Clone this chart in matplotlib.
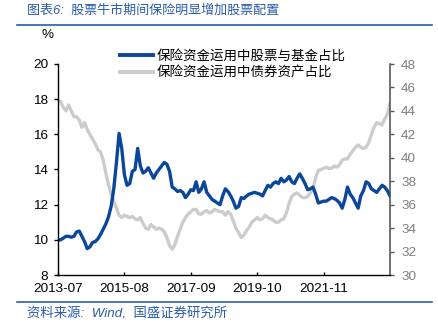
import numpy as np
import matplotlib
matplotlib.use("Agg")
import matplotlib.pyplot as plt
from matplotlib.lines import Line2D

plt.rcParams['font.family'] = ['Liberation Sans', 'Noto Sans CJK SC', 'DejaVu Sans']

# 月度数据 2013-07 起
stock_share = [
    10.0, 10.0, 10.1, 10.2, 10.2, 10.15, 10.2, 10.45, 10.5, 10.2,
    9.9, 9.5, 9.6, 9.85, 9.9, 10.05, 10.3, 10.6, 10.9, 11.3,
    11.9, 12.9, 14.4, 16.05, 15.2, 13.7, 13.1, 13.2, 13.9, 14.0,
    15.2, 14.2, 13.8, 13.9, 14.1, 13.8, 13.5, 13.8, 14.0, 14.2,
    14.4, 14.3, 13.9, 13.0, 12.9, 12.75, 12.8, 12.7, 12.4, 12.6,
    12.85, 12.8, 13.3, 12.7, 12.9, 13.3, 12.7, 12.5, 12.3, 12.2,
    12.1, 12.0, 12.5, 12.9, 12.75, 12.5, 12.2, 11.8, 11.9, 12.4,
    12.35, 12.5, 12.6, 12.65, 12.7, 12.65, 12.6, 12.5, 12.8, 13.1,
    13.0, 13.2, 13.3, 13.2, 13.5, 13.3, 13.4, 13.6, 13.3, 13.2,
    13.5, 13.75, 13.5, 13.2, 12.85, 12.9, 13.0, 12.6, 12.1, 12.15,
    12.2, 12.2, 12.3, 12.4, 12.35, 12.25, 12.1, 11.8, 12.3, 13.0,
    12.6, 12.4, 12.1, 11.8, 12.5, 12.8, 13.3, 13.2, 12.9, 12.8,
    12.7, 12.9, 13.1, 13.0, 12.8, 12.5,
]
bond_share = [
    44.9, 44.8, 44.3, 44.0, 44.5, 44.0, 43.5, 43.5, 43.2, 42.6,
    43.0, 42.4, 42.0, 41.6, 41.2, 40.7, 40.5, 39.8, 38.7, 37.7,
    36.9, 36.3, 35.7, 35.1, 34.9, 35.1, 35.0, 34.9, 35.0, 34.8,
    34.7, 34.9, 34.4, 34.0, 33.9, 34.3, 34.1, 33.9, 34.0, 33.9,
    33.7, 33.2, 32.5, 32.2, 32.6, 33.3, 33.9, 34.5, 34.9, 35.2,
    35.4, 35.6, 35.6, 35.2, 35.2, 35.4, 35.5, 35.3, 35.4, 35.6,
    35.5, 35.4, 35.4, 35.1, 35.4, 35.2, 34.6, 34.0, 33.6, 33.2,
    33.4, 33.8, 34.1, 34.5, 34.7, 34.9, 34.7, 34.8, 35.1, 34.9,
    34.8, 34.7, 34.5, 34.5, 34.7, 34.8, 35.3, 36.1, 36.7, 36.9,
    37.0, 36.8, 36.6, 36.6, 36.7, 37.0, 37.4, 38.3, 38.9, 39.0,
    39.1, 39.2, 39.1, 39.1, 39.3, 39.2, 39.4, 39.8, 39.9, 39.9,
    40.3, 40.6, 40.9, 41.1, 40.9, 40.8, 40.9, 41.3, 42.0, 42.6,
    43.0, 42.9, 42.8, 43.3, 43.7, 44.6,
]
x_labels = ['2013-07', '2015-08', '2017-09', '2019-10', '2021-11']
label_stock = '保险资金运用中股票与基金占比'
label_bond = '保险资金运用中债券资产占比'

blue = '#0a4699'
gray = '#cccccc'
title_blue = '#2a5caa'

months = np.arange(len(stock_share))

fig = plt.figure(figsize=(4.39, 3.28), dpi=100)
ax = fig.add_axes([58 / 439, 1 - 275 / 328, (390 - 58) / 439, (275 - 64) / 328])
ax2 = ax.twinx()

ax2.plot(months, bond_share, color=gray, lw=2.4, solid_joinstyle='round')
ax.plot(months, stock_share, color=blue, lw=2.4, solid_joinstyle='round')
ax.set_zorder(ax2.get_zorder() + 1)
ax.patch.set_visible(False)

ax.set_xlim(0, len(stock_share) - 1)
ax.set_ylim(8, 20)
ax.set_yticks(np.arange(8, 21, 2))
ax2.set_ylim(30, 48)
ax2.set_yticks(np.arange(30, 49, 2))
ax.set_xticks(np.arange(0, 101, 25))
ax.set_xticklabels(x_labels)

for a in (ax, ax2):
    a.spines['top'].set_visible(False)
ax.spines['right'].set_visible(False)
ax2.spines['left'].set_visible(False)
ax2.spines['bottom'].set_visible(False)
ax2.spines['right'].set_color('#595959')
ax2.spines['right'].set_linewidth(1.2)
ax.spines['left'].set_linewidth(1.0)
ax.spines['bottom'].set_linewidth(1.0)

ax.tick_params(axis='y', direction='out', length=3, width=1, pad=4, labelsize=9.7, colors='black')
ax.tick_params(axis='x', direction='in', length=2.5, width=1, pad=6, labelsize=9.7)
ax2.tick_params(axis='y', direction='out', length=3, width=1, pad=5, labelsize=9.7,
                colors='#595959', labelcolor='#7f7f7f')

fig.text(48 / 439, 1 - 35 / 328, '%', fontsize=9.7, ha='center', va='center')

handles = [Line2D([], [], color=blue, lw=2.8), Line2D([], [], color=gray, lw=2.8)]
fig.legend(handles, [label_stock, label_bond], loc='upper left',
           bbox_to_anchor=(120 / 439, 1 - 50 / 328), bbox_transform=fig.transFigure,
           frameon=False, fontsize=9.7, handlelength=2.45, handletextpad=0.3,
           labelspacing=0.25, borderpad=0, borderaxespad=0)

# 标题与来源
fig.text(27 / 439, 1 - 11 / 328, '图表6:  股票牛市期间保险明显增加股票配置', fontsize=9.4,
         color=title_blue, ha='left', va='center', style='italic')
fig.add_artist(Line2D([17 / 439, 432 / 439], [1 - 25 / 328, 1 - 25 / 328],
                      color=title_blue, lw=1.2, transform=fig.transFigure))
fig.add_artist(Line2D([17 / 439, 432 / 439], [1 - 302 / 328, 1 - 302 / 328],
                      color=title_blue, lw=1.2, transform=fig.transFigure))
fig.text(27 / 439, 1 - 314 / 328, '资料来源:  Wind,  国盛证券研究所', fontsize=9.6,
         color=title_blue, ha='left', va='center', style='italic')

fig.savefig('out.png', dpi=100)
